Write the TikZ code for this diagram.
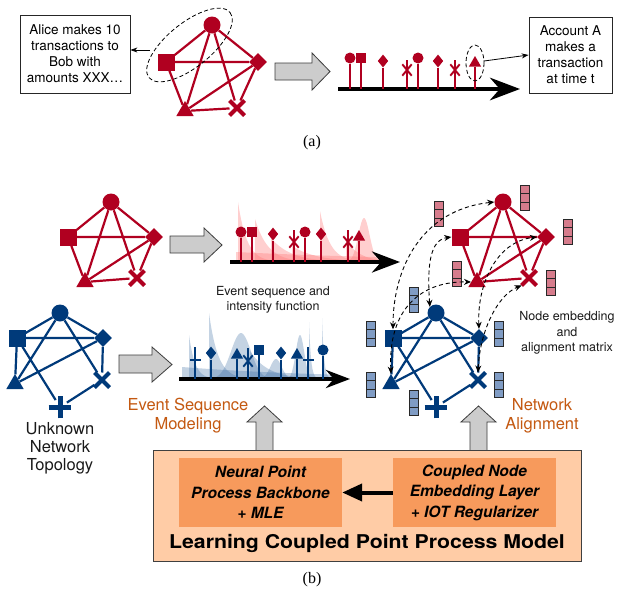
\documentclass[tikz,border=0pt]{standalone}
\usepackage{fontspec}
\setmainfont{TeX Gyre Heros}
\newfontfamily\seriffont{Liberation Serif}
\newfontfamily\widehv[FakeStretch=1.12]{TeX Gyre Heros}
\usetikzlibrary{shapes.geometric,shapes.misc,arrows.meta}
\definecolor{myred}{RGB}{176,0,32}
\definecolor{myblue}{RGB}{0,58,122}
\definecolor{embred}{RGB}{214,124,140}
\definecolor{embblue}{RGB}{128,156,196}
\definecolor{embline}{RGB}{40,40,40}
\definecolor{grayfill}{RGB}{204,204,204}
\definecolor{graydraw}{RGB}{60,60,60}
\definecolor{peach}{RGB}{255,204,166}
\definecolor{orangebox}{RGB}{247,154,92}
\definecolor{txtorange}{RGB}{196,89,17}
\definecolor{pinkint}{RGB}{255,120,120}
\definecolor{blueint}{RGB}{60,110,165}
\newcommand\ikern[6]{\fill[#6] (#2,#1) -- plot[domain=0:#5,samples=40] ({#2+\x},{#1-(#3)*exp(-\x/(#4))}) -- (#2+#5,#1) -- cycle;}
\newcommand\ihump[7]{\fill[#7] plot[domain=#5:#6,samples=40] (\x,{#1-(#3)*exp(-1*(((\x-(#2))/(#4))^2))}) -- cycle;}
\begin{document}
\begin{tikzpicture}[x=1pt,y=-1pt,
  ncirc/.style={circle, fill=#1, minimum size=17pt, inner sep=0pt},
  nsq/.style={rectangle, fill=#1, minimum size=17pt, inner sep=0pt},
  ndia/.style={diamond, fill=#1, minimum size=18pt, inner sep=0pt},
  ntri/.style={regular polygon, regular polygon sides=3, fill=#1, minimum size=20pt, inner sep=0pt},
  nx/.style={cross out, draw=#1, line width=4pt, minimum size=11pt, inner sep=0pt},
  nplus/.style={cross out, draw=#1, line width=5pt, minimum size=11pt, inner sep=0pt, rotate=45},
  ecirc/.style={circle, fill=#1, minimum size=11pt, inner sep=0pt},
  esq/.style={rectangle, fill=#1, minimum size=10.5pt, inner sep=0pt},
  edia/.style={diamond, fill=#1, minimum width=10.5pt, minimum height=13pt, inner sep=0pt},
  etri/.style={regular polygon, regular polygon sides=3, fill=#1, minimum size=14pt, inner sep=0pt},
  ex/.style={cross out, draw=#1, line width=1.9pt, minimum width=7.5pt, minimum height=9.5pt, inner sep=0pt},
  ebar/.style={rectangle, fill=#1, minimum width=11pt, minimum height=2pt, inner sep=0pt},
  evstem/.style={draw=#1, line width=2pt},
  redge/.style={draw=myred, line width=2.2pt},
  bedge/.style={draw=myblue, line width=2.2pt},
  axisarrow/.style={line width=4pt, -{Stealth[length=#1]}},
  garrow/.style={fill=grayfill, draw=graydraw, line width=0.8pt, line join=miter},
  txtbox/.style={draw=black!85, line width=0.8pt, fill=white, align=center, inner sep=2pt, font=\fontsize{13.5}{16}\selectfont},
  thinarrow/.style={line width=0.8pt, -{Stealth[length=7pt,width=5pt]}},
  dashedell/.style={dashed, line width=0.8pt, dash pattern=on 4pt off 2.5pt},
  alignarr/.style={dashed, line width=0.9pt, dash pattern=on 4pt off 3pt, {Stealth[length=7pt,width=6pt]}-{Stealth[length=7pt,width=6pt]}},
  embv/.style={rectangle, draw=embline, fill=#1, line width=0.9pt, minimum width=9pt, minimum height=25pt, inner sep=0pt,
    path picture={\draw[embline,line width=0.9pt] ([yshift=-8.33pt]path picture bounding box.north west) -- ([yshift=-8.33pt]path picture bounding box.north east) ([yshift=8.33pt]path picture bounding box.south west) -- ([yshift=8.33pt]path picture bounding box.south east);}},
  rint/.style={fill=pinkint, opacity=0.35},
  bint/.style={fill=blueint, opacity=0.3},
  orangetxt/.style={text=txtorange, align=center, font=\fontsize{16.5}{19}\selectfont},
  blacktxt/.style={text=black!90, align=center, font=\fontsize{16.5}{18}\selectfont},
  smalltxt/.style={text=black!90, align=center, font=\fontsize{12.5}{15.5}\selectfont},
  innerbox/.style={fill=orangebox, minimum width=163pt, minimum height=69pt, align=center, inner sep=0pt, font=\bfseries\itshape\fontsize{15.5}{20.5}\selectfont},
]
\useasboundingbox (0,0) rectangle (618,597);
\fill[white] (0,0) rectangle (618,597);

% ================= (a) =================
\node[txtbox, minimum width=110pt, minimum height=78pt] (boxA) at (75,54) {Alice makes 10\\transactions to\\Bob with\\amounts XXX…};
\node[txtbox, minimum width=83pt, minimum height=76pt] (boxB) at (570.5,55) {Account A\\makes a\\transaction\\at time t};

\node[ncirc=myred] (ac) at (212,25) {};
\node[nsq=myred] (as) at (166,62) {};
\node[ndia=myred] (ad) at (258,62) {};
\node[ntri=myred] (at) at (185,111) {};
\node[nx=myred] (ax) at (237,108) {};
\draw[redge] (ac) -- (as) (ac) -- (ad) (ac) -- (at) (ac) -- (ax) (as) -- (ad) (as) -- (at) (ad) -- (at) (ad) -- (ax) (at) -- (ax);

\draw[dashedell, rotate around={38.8:(189.5,45)}] (189.5,45) ellipse [x radius=52, y radius=22];
\coordinate (ellL) at (150,50);
\draw[thinarrow] (ellL) -- (ellL -| boxA.east);

\draw[garrow] (275,63) -- (312,63) -- (312,53) -- (330,71.5) -- (312,90) -- (312,80) -- (275,80) -- cycle;

\coordinate (axA0) at (338,89);
\coordinate (axA1) at (520,89);
\draw[axisarrow=30pt] (axA0) -- (axA1);
\node[ecirc=myred] (a1) at (350,58) {};
\node[esq=myred] (a2) at (361,58) {};
\node[edia=myred] (a3) at (383,61) {};
\node[ex=myred] (a4) at (407,70) {};
\node[ecirc=myred] (a5) at (418,58) {};
\node[edia=myred] (a6) at (438,61) {};
\node[ex=myred] (a7) at (455,70) {};
\node[etri=myred] (a8) at (475,63) {};
\foreach \n in {a1,a2,a3,a5,a6,a8} \draw[evstem=myred] (\n) -- (\n |- axA0);
\foreach \n in {a4,a7} \draw[evstem=myred] ([yshift=10pt]\n.center) -- (\n |- axA0);

\draw[dashedell] (475,63) ellipse [x radius=9, y radius=18];
\coordinate (ell2R) at (484,61);
\draw[thinarrow] (ell2R) -- (boxB.west);

\node[font=\seriffont\fontsize{16}{16}\selectfont] (la) at (312,143) {(a)};

% ================= (b) red left =================
\node[ncirc=myred] (rc) at (111,202) {};
\node[nsq=myred] (rs) at (68,237) {};
\node[ndia=myred] (rd) at (154,237) {};
\node[ntri=myred] (rt) at (85,282) {};
\node[nx=myred] (rx) at (137,278) {};
\draw[redge] (rc) -- (rs) (rc) -- (rd) (rc) -- (rt) (rc) -- (rx) (rs) -- (rd) (rs) -- (rt) (rd) -- (rt) (rd) -- (rx) (rt) -- (rx);

\draw[garrow] (170,236) -- (204,236) -- (204,228) -- (222,245) -- (204,262) -- (204,253) -- (170,253) -- cycle;

% red intensity
\ikern{262}{236}{10}{200}{150}{rint}
\ikern{262}{238}{60}{9}{40}{rint}
\ikern{262}{255}{43}{13}{55}{rint}
\ikern{262}{271}{24}{20}{60}{rint}
\ikern{262}{292}{16}{25}{60}{rint}
\ikern{262}{320}{51}{10}{40}{rint}
\ikern{262}{346}{22}{14}{40}{rint}
\ihump{262}{364}{44}{8}{343}{385}{rint}

\coordinate (axR0) at (230,262);
\coordinate (axR1) at (400,262);
\draw[axisarrow=28pt] (axR0) -- (axR1);
\node[ecirc=myred] (c1) at (241,232) {};
\node[esq=myred] (c2) at (252,232) {};
\node[edia=myred] (c3) at (273,234) {};
\node[ex=myred] (c4) at (294,242) {};
\node[ecirc=myred] (c5) at (305,232) {};
\node[edia=myred] (c6) at (321,234) {};
\node[ex=myred] (c7) at (348,242) {};
\node[etri=myred] (c8) at (359,237) {};
\foreach \n in {c1,c2,c3,c5,c6,c8} \draw[evstem=myred] (\n) -- (\n |- axR0);
\foreach \n in {c4,c7} \draw[evstem=myred] ([yshift=12pt]\n.center) -- (\n |- axR0);

\node[smalltxt] (evtxt) at (273,300) {Event sequence and\\intensity function};

% ================= (b) blue left =================
\node[ncirc=myblue] (bc) at (60,313) {};
\node[nsq=myblue] (bs) at (17,338) {};
\node[ndia=myblue] (bd) at (103,338) {};
\node[ntri=myblue] (bt) at (15,384) {};
\node[nx=myblue] (bx) at (102,380) {};
\node[nplus=myblue] (bp) at (60,407) {};
\draw[bedge] (bc) -- (bs) (bc) -- (bd) (bc) -- (bt) (bc) -- (bx) (bs) -- (bd) (bs) -- (bt) (bs) -- (bp) (bd) -- (bt) (bd) -- (bx) (bx) -- (bp);

\node[blacktxt] (unk) at (60,448) {Unknown\\Network\\Topology};

\draw[garrow] (119,355) -- (152,355) -- (152,347) -- (172,364.5) -- (152,382) -- (152,373) -- (119,373) -- cycle;

% blue intensity
\ikern{379}{182}{12}{150}{150}{bint}
\ikern{379}{189}{44}{6}{30}{bint}
\ikern{379}{209}{66}{9}{45}{bint}
\ihump{379}{241}{46}{14}{205}{277}{bint}
\ikern{379}{250}{28}{18}{60}{bint}
\ihump{379}{276}{20}{8}{255}{297}{bint}
\ihump{379}{300}{44}{6}{284}{316}{bint}
\ikern{379}{309}{57}{2}{15}{bint}
\ikern{379}{322}{61}{2}{15}{bint}

\coordinate (axB0) at (179,379);
\coordinate (axB1) at (350,379);
\draw[axisarrow=24pt] (axB0) -- (axB1);
\node[ebar=myblue] (b1) at (195,360) {};
\node[edia=myblue] (b2) at (211,353) {};
\node[etri=myblue] (b3) at (237,355) {};
\node[ex=myblue] (b4) at (248,361) {};
\node[esq=myblue] (b5) at (259,350) {};
\node[edia=myblue] (b6) at (281,353) {};
\node[etri=myblue] (b7) at (297,355) {};
\node[ebar=myblue] (b8) at (308,360) {};
\node[ecirc=myblue] (b9) at (323,350) {};
\foreach \n in {b2,b3,b5,b6,b7,b9} \draw[evstem=myblue] (\n) -- (\n |- axB0);
\foreach \n in {b1,b4,b8} \draw[evstem=myblue] ([yshift=13pt]\n.center) -- (\n |- axB0);

\node[orangetxt] (esm) at (188,416) {Event Sequence\\Modeling};

% ================= (b) right networks =================
\node[ncirc=myred] (rc2) at (503,202) {};
\node[nsq=myred] (rs2) at (460,237) {};
\node[ndia=myred] (rd2) at (546,237) {};
\node[ntri=myred] (rt2) at (477,282) {};
\node[nx=myred] (rx2) at (529,278) {};
\draw[redge] (rc2) -- (rs2) (rc2) -- (rd2) (rc2) -- (rt2) (rc2) -- (rx2) (rs2) -- (rd2) (rs2) -- (rt2) (rd2) -- (rt2) (rd2) -- (rx2) (rt2) -- (rx2);

\node[ncirc=myblue] (bc2) at (436,313) {};
\node[nsq=myblue] (bs2) at (393,338) {};
\node[ndia=myblue] (bd2) at (479,338) {};
\node[ntri=myblue] (bt2) at (391,384) {};
\node[nx=myblue] (bx2) at (478,380) {};
\node[nplus=myblue] (bp2) at (436,407) {};
\draw[bedge] (bc2) -- (bs2) (bc2) -- (bd2) (bc2) -- (bt2) (bc2) -- (bx2) (bs2) -- (bd2) (bs2) -- (bt2) (bs2) -- (bp2) (bd2) -- (bt2) (bd2) -- (bx2) (bx2) -- (bp2);

\node[embv=embred] (er1) at (525,198) {};
\node[embv=embred] (er2) at (568,232) {};
\node[embv=embred] (er3) at (551,283) {};
\node[embv=embred] (er4) at (439,214) {};
\node[embv=embred] (er5) at (457,274) {};
\node[embv=embblue] (eb1) at (414,300) {};
\node[embv=embblue] (eb2) at (371,334) {};
\node[embv=embblue] (eb3) at (371,385) {};
\node[embv=embblue] (eb4) at (414,403) {};
\node[embv=embblue] (eb5) at (499,334) {};
\node[embv=embblue] (eb6) at (499,385) {};

\draw[alignarr] (bs2.north) .. controls (393,270) and (420,210) .. (rc2.west);
\draw[alignarr] (bc2.north west) .. controls (427,265) and (430,240) .. (rs2.west);
\draw[alignarr] (bt2.north) .. controls (388,310) and (420,281) .. (rt2.west);
\draw[alignarr] (bd2.north) .. controls (477,285) and (496,242) .. (rd2.west);
\draw[alignarr] (bx2.north) .. controls (480,330) and (498,295) .. (rx2.south west);

\node[smalltxt] (netxt) at (567,333) {Node embedding\\and\\alignment matrix};
\node[orangetxt] (na) at (542,416) {Network\\Alignment};

% ================= bottom model box =================
\draw[garrow] (256,451) -- (256,422) -- (247,422) -- (264.5,406) -- (282,422) -- (273,422) -- (273,451) -- cycle;
\draw[garrow] (470,451) -- (470,422) -- (461,422) -- (478.5,406) -- (496,422) -- (487,422) -- (487,451) -- cycle;

\node[rectangle, fill=peach, draw=black!75, line width=0.8pt, minimum width=428pt, minimum height=111pt, inner sep=0pt] (lcpp) at (367,505.5) {};
\node[innerbox] (npp) at (260.5,492.5) {Neural Point\\Process Backbone\\+ MLE};
\node[innerbox] (cne) at (474.5,492.5) {Coupled Node\\Embedding Layer\\+ IOT Regularizer};
\draw[line width=4pt, -{Triangle[length=20pt,width=17pt]}] (cne.west) -- (npp.east);
\node[font=\widehv\bfseries\fontsize{19}{20}\selectfont] (lcppt) at (367,543) {Learning Coupled Point Process Model};

\node[font=\seriffont\fontsize{16}{16}\selectfont] (lb) at (312,580) {(b)};
\end{tikzpicture}
\end{document}
